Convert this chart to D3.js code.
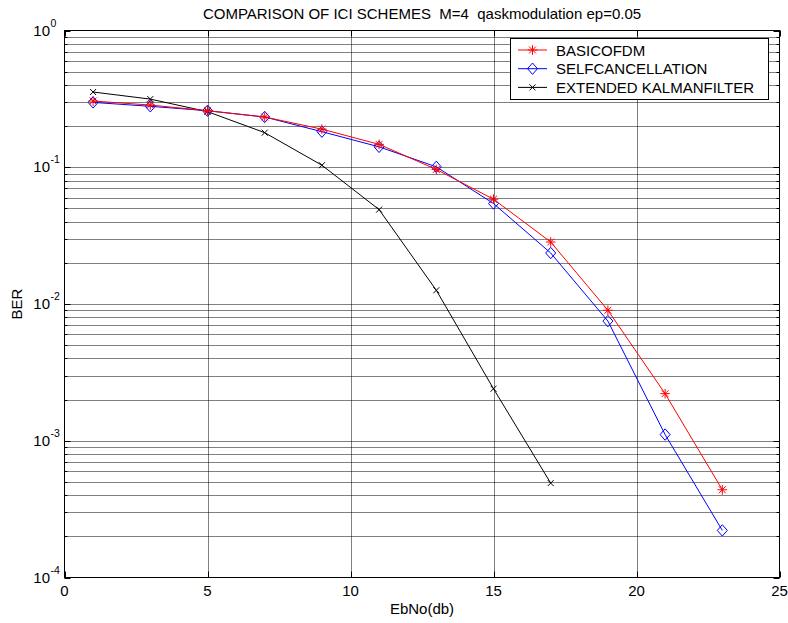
<!DOCTYPE html>
<html>
<head>
<meta charset="utf-8">
<script src="https://cdn.jsdelivr.net/npm/d3@7"></script>
<style>
  html, body { margin: 0; padding: 0; background: #fff; }
  svg { display: block; font-family: "Liberation Sans", Arial, Helvetica, sans-serif; }
</style>
</head>
<body>
<svg id="chart" width="788" height="623"></svg>
<script>
// Eb/No sample points (dB)
const ebno = [1, 3, 5, 7, 9, 11, 13, 15, 17, 19, 21, 23];
const ebnoKalman = [1, 3, 5, 7, 9, 11, 13, 15, 17];

// Bit error rates per scheme
const berBasicOfdm = [0.305, 0.285, 0.259, 0.233, 0.190, 0.147, 0.0964, 0.0584, 0.0284, 0.0090, 0.00221, 0.000438];
const berSelfCancel = [0.298, 0.279, 0.259, 0.233, 0.182, 0.141, 0.1007, 0.0543, 0.0236, 0.0075, 0.00111, 0.000221];
const berKalman = [0.355, 0.315, 0.255, 0.179, 0.1035, 0.049, 0.0126, 0.0024, 0.00049];

const seriesNames = ["BASICOFDM", "SELFCANCELLATION", "EXTENDED KALMANFILTER"];
const xTicks = [0, 5, 10, 15, 20, 25];
const yDecades = [-4, -3, -2, -1, 0];

const titleText = "COMPARISON OF ICI SCHEMES  M=4  qaskmodulation ep=0.05";
const xLabel = "EbNo(db)";
const yLabel = "BER";

const svg = d3.select("#chart");
const plot = { left: 64.5, right: 779.5, top: 30.5, bottom: 577.5 };

const x = d3.scaleLinear().domain([0, 25]).range([plot.left, plot.right]);
const y = d3.scaleLog().domain([1e-4, 1]).range([plot.bottom, plot.top]);

// grid: decades plus minor 2..9 in each decade
const minorVals = [];
for (let e = -4; e < 0; e++) for (let m = 2; m <= 9; m++) minorVals.push(m * Math.pow(10, e));
const majorVals = yDecades.map(e => Math.pow(10, e));

const grid = svg.append("g").attr("fill", "none").attr("stroke", "#000").attr("stroke-width", 1)
  .attr("stroke-dasharray", "1,1");
grid.selectAll("line.hy").data(minorVals.concat(majorVals.slice(1, -1))).join("line")
  .attr("x1", plot.left).attr("x2", plot.right)
  .attr("y1", d => Math.round(y(d)) + 0.5).attr("y2", d => Math.round(y(d)) + 0.5);
grid.selectAll("line.vx").data(xTicks.slice(1, -1)).join("line")
  .attr("y1", plot.top).attr("y2", plot.bottom)
  .attr("x1", d => Math.round(x(d)) + 0.5).attr("x2", d => Math.round(x(d)) + 0.5);

// axes box
svg.append("rect").attr("x", plot.left).attr("y", plot.top)
  .attr("width", plot.right - plot.left).attr("height", plot.bottom - plot.top)
  .attr("fill", "none").attr("stroke", "#000").attr("stroke-width", 1);

// ticks: inward on all four sides
const ticks = svg.append("g").attr("stroke", "#000").attr("stroke-width", 1);
xTicks.forEach(t => {
  const px = Math.round(x(t)) + 0.5;
  ticks.append("line").attr("x1", px).attr("x2", px).attr("y1", plot.bottom).attr("y2", plot.bottom - 6);
  ticks.append("line").attr("x1", px).attr("x2", px).attr("y1", plot.top).attr("y2", plot.top + 6);
});
majorVals.forEach(v => {
  const py = Math.round(y(v)) + 0.5;
  ticks.append("line").attr("x1", plot.left).attr("x2", plot.left + 6).attr("y1", py).attr("y2", py);
  ticks.append("line").attr("x1", plot.right).attr("x2", plot.right - 6).attr("y1", py).attr("y2", py);
});
minorVals.forEach(v => {
  const py = Math.round(y(v)) + 0.5;
  ticks.append("line").attr("x1", plot.left).attr("x2", plot.left + 3).attr("y1", py).attr("y2", py);
  ticks.append("line").attr("x1", plot.right).attr("x2", plot.right - 3).attr("y1", py).attr("y2", py);
});

// x tick labels
svg.append("g").selectAll("text").data(xTicks).join("text")
  .attr("x", d => x(d)).attr("y", 596)
  .attr("text-anchor", "middle").attr("font-size", 15).attr("fill", "#000")
  .text(d => d);

// y tick labels as 10 with superscript exponent
const yl = svg.append("g").attr("fill", "#000");
yDecades.forEach(e => {
  yl.append("text").attr("x", 50).attr("y", y(Math.pow(10, e)) + 5)
    .attr("text-anchor", "end").attr("font-size", 15).text("10");
  yl.append("text").attr("x", 50.5).attr("y", y(Math.pow(10, e)) - 4)
    .attr("font-size", 10.5).text(String(e));
});

// title and axis labels
svg.append("text").attr("x", (plot.left + plot.right) / 2).attr("y", 19)
  .attr("text-anchor", "middle").attr("font-size", 15).attr("fill", "#000")
  .attr("xml:space", "preserve").style("white-space", "pre").text(titleText);
svg.append("text").attr("x", (plot.left + plot.right) / 2).attr("y", 614)
  .attr("text-anchor", "middle").attr("font-size", 15).attr("fill", "#000").text(xLabel);
svg.append("text").attr("transform", `translate(22,${(plot.top + plot.bottom) / 2}) rotate(-90)`)
  .attr("text-anchor", "middle").attr("font-size", 15).attr("fill", "#000").text(yLabel);

// marker drawers
function asterisk(g, cx, cy, r, color) {
  const d = r * 0.72;
  g.append("path").attr("d",
    `M${cx - r},${cy}H${cx + r}M${cx},${cy - r}V${cy + r}` +
    `M${cx - d},${cy - d}L${cx + d},${cy + d}M${cx - d},${cy + d}L${cx + d},${cy - d}`)
    .attr("stroke", color).attr("stroke-width", 1).attr("fill", "none");
}
function diamond(g, cx, cy, rw, rh, color) {
  g.append("path").attr("d", `M${cx},${cy - rh}L${cx + rw},${cy}L${cx},${cy + rh}L${cx - rw},${cy}Z`)
    .attr("stroke", color).attr("stroke-width", 1).attr("fill", "none");
}
function cross(g, cx, cy, r, color) {
  g.append("path").attr("d", `M${cx - r},${cy - r}L${cx + r},${cy + r}M${cx - r},${cy + r}L${cx + r},${cy - r}`)
    .attr("stroke", color).attr("stroke-width", 1).attr("fill", "none");
}

const line = d3.line().x(d => x(d[0])).y(d => y(d[1]));
const series = [
  { name: seriesNames[0], xs: ebno, ys: berBasicOfdm, color: "#ff0000", mark: (g, cx, cy) => asterisk(g, cx, cy, 4.8, "#ff0000") },
  { name: seriesNames[1], xs: ebno, ys: berSelfCancel, color: "#0000ff", mark: (g, cx, cy) => diamond(g, cx, cy, 5, 5.7, "#0000ff") },
  { name: seriesNames[2], xs: ebnoKalman, ys: berKalman, color: "#000000", mark: (g, cx, cy) => cross(g, cx, cy, 3, "#000000") }
];

const dataLayer = svg.append("g");
series.slice().reverse().forEach(s => {
  const pts = s.xs.map((v, i) => [v, s.ys[i]]);
  const g = dataLayer.append("g");
  g.append("path").attr("d", line(pts)).attr("fill", "none")
    .attr("stroke", s.color).attr("stroke-width", 1);
  pts.forEach(p => s.mark(g, x(p[0]), y(p[1])));
});

// legend
const lg = svg.append("g");
lg.append("rect").attr("x", 510.5).attr("y", 38.5).attr("width", 258).attr("height", 61)
  .attr("fill", "#fff").attr("stroke", "#000").attr("stroke-width", 1);
const rowY = [50, 68.7, 87.4];
series.forEach((s, i) => {
  const g = lg.append("g");
  g.append("line").attr("x1", 518).attr("x2", 547).attr("y1", rowY[i]).attr("y2", rowY[i])
    .attr("stroke", s.color).attr("stroke-width", 1);
  s.mark(g, 532.5, rowY[i]);
  g.append("text").attr("x", 556).attr("y", rowY[i] + 5.5).attr("font-size", 15)
    .attr("fill", "#000").text(s.name);
});
</script>
</body>
</html>
